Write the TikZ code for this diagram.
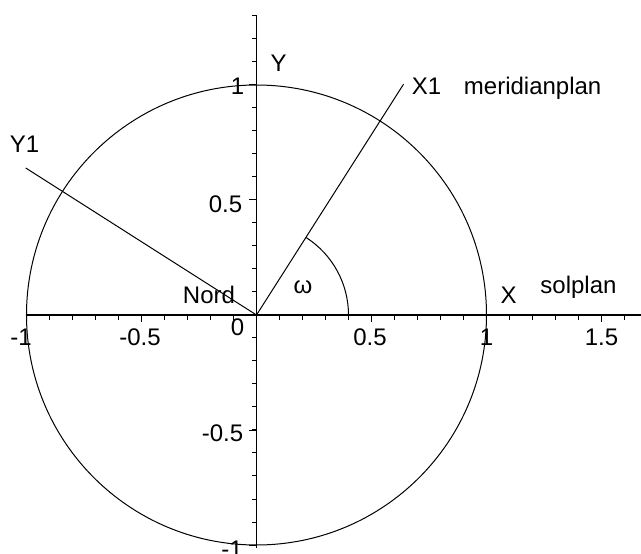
\documentclass[tikz,border=0pt]{standalone}
\usepackage{fontspec}
\setmainfont{Liberation Sans}
\usetikzlibrary{positioning}
\tikzset{
  pl/axis/.style={line width=0.6pt},
  pl/line/.style={line width=0.5pt},
  pl/tick/.style={line width=0.5pt},
  pl/label/.style={inner sep=0pt, font=\fontsize{12}{14}\selectfont}
}

\begin{document}
\begin{tikzpicture}[x=115pt, y=115pt]
  \useasboundingbox (-1.1152,-1.0391) rectangle (1.6717,1.3696);

  % axes
  \coordinate (O) at (0,0);
  \coordinate (xl) at (-1,0);
  \coordinate (xr) at (1.6717,0);
  \coordinate (yb) at (0,-1.013);
  \coordinate (yt) at (0,1.304);
  \draw[pl/axis] (xl) -- (xr);
  \draw[pl/axis] (yb) -- (yt);

  % ticks
  \foreach \t in {-1.0,-0.9,...,1.65}
    \draw[pl/tick] (\t,0) -- (\t,-0.02);
  \foreach \t in {-1,-0.5,0.5,1,1.5}
    \draw[pl/tick] (\t,0) -- (\t,-0.032);
  \foreach \t in {-1.0,-0.9,...,1.35}
    \draw[pl/tick] (0,\t) -- (-0.02,\t);
  \foreach \t in {-1,-0.5,0.5,1}
    \draw[pl/tick] (0,\t) -- (-0.032,\t);

  % unit circle
  \draw[pl/line] (O) circle[radius=1];

  % rotated axes
  \coordinate (x1end) at (57.5:1.19);
  \coordinate (y1end) at (147.5:1.19);
  \draw[pl/line] (O) -- (x1end);
  \draw[pl/line] (O) -- (y1end);
  \draw[pl/line] (0.4,0) arc[start angle=0, end angle=57.5, radius=0.4];

  % tick labels
  \node[pl/label] (xm1) at (-1.024,-0.0978) {-1};
  \node[pl/label] (xm05) at (-0.5065,-0.0978) {-0.5};
  \node[pl/label] (xp05) at (0.4935,-0.0978) {0.5};
  \node[pl/label] (xp1) at (1.0,-0.0978) {1};
  \node[pl/label] (xp15) at (1.5,-0.0978) {1.5};
  \node[pl/label] (yp1) at (-0.0826,0.9957) {1};
  \node[pl/label] (yp05) at (-0.1348,0.4826) {0.5};
  \node[pl/label] (ym05) at (-0.1478,-0.513) {-0.5};
  \node[pl/label] (ym1) at (-0.1065,-1.017) {-1};
  \node[pl/label] (zero) at (-0.0826,-0.052) {0};

  % names
  \node[pl/label] (ylab) at (0.0957,1.0957) {Y};
  \node[pl/label] (xlab) at (1.0957,0.087) {X};
  \node[pl/label] (sol) at (1.4,0.1217) {solplan};
  \node[pl/label] (x1lab) at (0.739,0.9957) {X1};
  \node[pl/label, anchor=base west] (merid) at ([xshift=11pt]x1lab.base east) {meridianplan};
  \node[pl/label] (y1lab) at (-1.0087,0.7435) {Y1};
  \node[pl/label] (nord) at (-0.2065,0.087) {Nord};
  \node[pl/label] (omega) at (0.2022,0.1196) {ω};
\end{tikzpicture}
\end{document}
